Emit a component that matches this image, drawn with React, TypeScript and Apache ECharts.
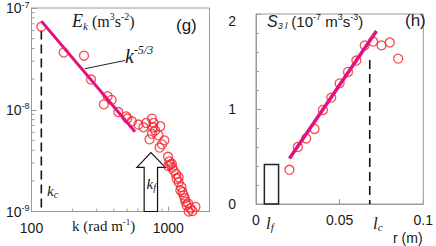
import { useEffect, useRef } from 'react';
import * as echarts from 'echarts';

// ---------- panel (g): energy spectrum ----------
const K_DATA = [118, 172, 242, 272, 338, 360, 385, 431, 491, 502, 541, 605, 658, 689, 729, 759, 759, 772, 780, 802, 849, 863, 873, 899, 935, 995, 1001, 1017, 1034, 1060, 1069, 1094, 1139, 1150, 1190, 1190, 1225, 1246, 1270, 1296, 1320, 1334, 1360, 1396, 1409, 1452, 1500, 1579];
const E_DATA = [6.54e-8, 3.66e-8, 3.4e-8, 1.98e-8, 1.13e-8, 1.36e-8, 1.25e-8, 9.5e-9, 8.6e-9, 8.2e-9, 7.7e-9, 7.15e-9, 6.73e-9, 7.41e-9, 5.12e-9, 8.17e-9, 5.8e-9, 6.73e-9, 7.41e-9, 6.25e-9, 5.6e-9, 4.25e-9, 6.89e-9, 4.57e-9, 5.0e-9, 3.45e-9, 2.8e-9, 3.1e-9, 2.88e-9, 2.95e-9, 2.7e-9, 2.52e-9, 2.34e-9, 2.1e-9, 2.17e-9, 1.94e-9, 1.62e-9, 1.74e-9, 1.55e-9, 1.44e-9, 1.35e-9, 1.25e-9, 1.15e-9, 1.2e-9, 1.0e-9, 1.07e-9, 1.01e-9, 1.11e-9];
const SLOPE_K = [118, 571];
const SLOPE_E = [7.43e-8, 6.07e-9];
const LEADER_K = [245, 483];
const LEADER_E = [2.53e-8, 3.05e-8];
const KC_VALUE = 118;
const KC_TOP = 6.0e-8;
const K_MIN = 100;
const K_MAX = 2000;
const E_MIN = 1e-9;
const E_MAX = 1e-7;
const K_LABELS = [100, 1000];
const K_MINOR_TICKS = [200, 300, 400, 500, 600, 700, 800, 900];
const E_MINOR_TICKS = [2e-9, 3e-9, 4e-9, 5e-9, 6e-9, 7e-9, 8e-9, 9e-9, 2e-8, 3e-8, 4e-8, 5e-8, 6e-8, 7e-8, 8e-8, 9e-8];
// hollow arrow marking k_f (outline in data space)
const ARROW_K = [666, 666, 589, 746, 951, 834, 834];
const ARROW_E = [1e-9, 2.72e-9, 2.72e-9, 3.79e-9, 2.72e-9, 2.72e-9, 1e-9];

// ---------- panel (h): third-order structure function ----------
const R_DATA = [0.02, 0.025, 0.03, 0.035, 0.04, 0.045, 0.05, 0.055, 0.06, 0.065, 0.07, 0.075, 0.08, 0.085];
const S_DATA = [0.36, 0.6, 0.69, 0.79, 0.99, 1.12, 1.27, 1.39, 1.51, 1.67, 1.71, 1.67, 1.7, 1.53];
const FIT_R = [0.02, 0.072];
const FIT_S = [0.48, 1.82];
const LC_VALUE = 0.068;
const LC_TOP = 1.515;
const LF_BOX_R = [0.005, 0.0135];
const LF_BOX_S = [0, 0.415];
const R_MIN = 0;
const R_MAX = 0.1;
const R_STEP = 0.05;
const S_MIN = 0;
const S_MAX = 2;
const S_STEP = 1;

const AXIS = '#9a9a9a';
const RED = '#f2202a';
const MAGENTA = '#e1127d';
const INK = '#1a1a1a';
const SANS = '"Liberation Sans", Arial, sans-serif';
const SERIF = '"Liberation Serif", "Times New Roman", serif';

const zip = (a: number[], b: number[]) => a.map((v, i) => [v, b[i]]);

function txt(x: number, y: number, text: string, rich: any, extra: any = {}) {
  return {
    type: 'text',
    x,
    y,
    silent: true,
    z: 50,
    style: { text, rich, fill: INK, align: 'left', verticalAlign: 'top', ...extra },
  };
}

function buildOption(): any {
  const serifIt = (size: number, lh: number, va = 'middle') => ({ fontFamily: SERIF, fontStyle: 'italic', fontSize: size, lineHeight: lh, color: INK, verticalAlign: va });
  const serif = (size: number, lh: number, va = 'middle') => ({ fontFamily: SERIF, fontSize: size, lineHeight: lh, color: INK, verticalAlign: va });
  const sans = (size: number, lh: number, va = 'middle') => ({ fontFamily: SANS, fontSize: size, lineHeight: lh, color: INK, verticalAlign: va });
  const sansIt = (size: number, lh: number, va = 'middle') => ({ fontFamily: SANS, fontStyle: 'italic', fontSize: size, lineHeight: lh, color: INK, verticalAlign: va });

  const tickStyle = { color: AXIS, width: 1 };

  return {
    animation: false,
    backgroundColor: '#fff',
    grid: [
      { left: 31.5, top: 5, width: 178, height: 206.5, show: true, borderColor: AXIS, borderWidth: 1, backgroundColor: 'transparent' },
      { left: 256, top: 5, width: 177, height: 199, show: true, borderColor: AXIS, borderWidth: 1, backgroundColor: 'transparent' },
    ],
    xAxis: [
      {
        type: 'log', logBase: 10, gridIndex: 0, min: K_MIN, max: K_MAX,
        axisLine: { show: true, lineStyle: tickStyle },
        axisTick: { show: true, inside: true, length: 5, lineStyle: tickStyle },
        axisLabel: {
          margin: 9, fontFamily: SANS, fontSize: 14, color: INK,
          formatter: (v: number) => (K_LABELS.some((l) => Math.abs(l - v) < 1e-6 * l) ? String(Math.round(v)) : ''),
        },
        splitLine: { show: false },
      },
      {
        type: 'value', gridIndex: 1, min: R_MIN, max: R_MAX, interval: R_STEP,
        axisLine: { show: true, onZero: false, lineStyle: tickStyle },
        axisTick: { show: true, inside: true, length: 5, lineStyle: tickStyle },
        axisLabel: { margin: 9, fontFamily: SANS, fontSize: 14, color: INK },
        splitLine: { show: false },
      },
    ],
    yAxis: [
      {
        type: 'log', logBase: 10, gridIndex: 0, min: E_MIN, max: E_MAX,
        axisLine: { show: true, lineStyle: tickStyle },
        axisTick: { show: true, inside: true, length: 5, lineStyle: tickStyle },
        axisLabel: {
          margin: 2,
          formatter: (v: number) => `{b|10}{s|${Math.round(Math.log10(v))}}`,
          rich: { b: sans(14, 16), s: sans(9, 9, 'top') },
        },
        splitLine: { show: false },
      },
      {
        type: 'value', gridIndex: 1, min: S_MIN, max: S_MAX, interval: S_STEP,
        axisLine: { show: true, onZero: false, lineStyle: tickStyle },
        axisTick: { show: true, inside: true, length: 5, lineStyle: tickStyle },
        minorTick: { show: true, splitNumber: 5, length: 3, lineStyle: tickStyle },
        axisLabel: {
          margin: 20, fontFamily: SANS, fontSize: 14, color: INK,
          formatter: (v: number) => (v === S_MAX ? `{t|${v}}` : String(v)),
          rich: { t: { ...sans(14, 16), padding: [14, 0, 0, 0] } },
        },
        splitLine: { show: false },
      },
    ],
    series: [
      // minor ticks, panel (g)
      {
        type: 'custom', xAxisIndex: 0, yAxisIndex: 0, silent: true, z: 3,
        data: K_MINOR_TICKS.map((v) => [v, E_MIN]),
        renderItem: (_p: any, api: any) => {
          const p = api.coord([api.value(0), E_MIN]);
          return { type: 'line', shape: { x1: p[0], y1: p[1], x2: p[0], y2: p[1] - 3 }, style: { stroke: AXIS, lineWidth: 1 } };
        },
      },
      {
        type: 'custom', xAxisIndex: 0, yAxisIndex: 0, silent: true, z: 3,
        data: E_MINOR_TICKS.map((v) => [K_MIN, v]),
        renderItem: (_p: any, api: any) => {
          const p = api.coord([K_MIN, api.value(1)]);
          return { type: 'line', shape: { x1: p[0], y1: p[1], x2: p[0] + 3, y2: p[1] }, style: { stroke: AXIS, lineWidth: 1 } };
        },
      },
      // k_c dashed line
      {
        type: 'line', xAxisIndex: 0, yAxisIndex: 0, silent: true, symbol: 'none', z: 4,
        data: [[KC_VALUE, KC_TOP], [KC_VALUE, E_MIN]],
        lineStyle: { color: '#111', width: 1.6, type: [9, 5] },
      },
      // hollow arrow k_f
      {
        type: 'custom', xAxisIndex: 0, yAxisIndex: 0, silent: true, z: 6,
        data: [[ARROW_K[3], E_MIN]],
        renderItem: (_p: any, api: any) => {
          const pts = ARROW_K.map((k, i) => api.coord([k, ARROW_E[i]]));
          return { type: 'polygon', shape: { points: pts }, style: { fill: '#fff', stroke: '#111', lineWidth: 1.2 } };
        },
      },
      // spectrum points
      {
        type: 'scatter', xAxisIndex: 0, yAxisIndex: 0, clip: false, z: 7,
        data: zip(K_DATA, E_DATA), symbol: 'circle', symbolSize: 9,
        itemStyle: { color: 'rgba(0,0,0,0)', borderColor: RED, borderWidth: 1.3 },
      },
      // k^-5/3 line
      {
        type: 'line', xAxisIndex: 0, yAxisIndex: 0, silent: true, symbol: 'none', z: 8,
        data: zip(SLOPE_K, SLOPE_E), lineStyle: { color: MAGENTA, width: 3 },
      },
      // leader line
      {
        type: 'line', xAxisIndex: 0, yAxisIndex: 0, silent: true, symbol: 'none', z: 8,
        data: zip(LEADER_K, LEADER_E), lineStyle: { color: '#222', width: 1 },
      },
      // panel (h): l_c dashed line
      {
        type: 'line', xAxisIndex: 1, yAxisIndex: 1, silent: true, symbol: 'none', z: 4,
        data: [[LC_VALUE, LC_TOP], [LC_VALUE, S_MIN]],
        lineStyle: { color: '#111', width: 1.6, type: [9, 5] },
      },
      // fit line + l_f box
      {
        type: 'line', xAxisIndex: 1, yAxisIndex: 1, silent: true, symbol: 'none', z: 8,
        data: zip(FIT_R, FIT_S), lineStyle: { color: MAGENTA, width: 3.5 },
        markArea: {
          silent: true,
          itemStyle: { color: 'rgba(0,0,0,0)', borderColor: '#222', borderWidth: 1.5 },
          data: [[{ coord: [LF_BOX_R[0], LF_BOX_S[0]] }, { coord: [LF_BOX_R[1], LF_BOX_S[1]] }]],
        },
      },
      {
        type: 'scatter', xAxisIndex: 1, yAxisIndex: 1, clip: false, z: 7,
        data: zip(R_DATA, S_DATA), symbol: 'circle', symbolSize: 9,
        itemStyle: { color: 'rgba(0,0,0,0)', borderColor: RED, borderWidth: 1.3 },
      },
    ],
    graphic: [
      txt(72, 11, '{E|E}{sub|k}{n| (m}{sup|3}{n|s}{sup|-2}{n|)}', {
        E: serifIt(18, 20), sub: serifIt(11, 11, 'bottom'), n: serif(16, 20), sup: serif(10, 10, 'top'),
      }),
      txt(125, 44, '{k|k}{sup|-5/3}', { k: serifIt(20, 24), sup: serifIt(12, 12, 'top') }),
      txt(176, 16, '{g|(g)}', { g: sans(17, 18) }),
      txt(47, 182, '{k|k}{s|c}', { k: serifIt(15, 17), s: serifIt(10, 10, 'bottom') }),
      txt(146.5, 175, '{k|k}{s|f}', { k: serifIt(15, 17), s: serifIt(10, 10, 'bottom') }),
      txt(72, 217, '{n|k (rad m}{sup|-1}{n|)}', { n: serif(15, 17), sup: serif(9, 9, 'top') }),
      txt(267, 12, '{S|S}{sub|3 l}{n| (10}{sup|-7}{n| m}{sup|3}{n|s}{sup|-3}{n|)}', {
        S: sansIt(16, 18), sub: sansIt(9, 9, 'bottom'), n: sans(15, 18), sup: sans(9, 9, 'top'),
      }),
      txt(405, 11, '{h|(h)}', { h: sans(17, 18) }),
      txt(266, 214, '{l|l}{s|f}', { l: serifIt(17, 18), s: serifIt(11, 11, 'bottom') }),
      txt(373, 214, '{l|l}{s|c}', { l: serifIt(17, 18), s: serifIt(11, 11, 'bottom') }),
      txt(393, 230, '{r|r (m)}', { r: sans(14, 15) }),
    ],
  };
}

export default function App() {
  const ref = useRef<HTMLDivElement>(null);
  useEffect(() => {
    if (!ref.current) return;
    const chart = echarts.init(ref.current, undefined, { renderer: 'svg' });
    chart.setOption(buildOption());
    return () => chart.dispose();
  }, []);
  return (
    <div
      ref={ref}
      style={{ position: 'fixed', left: 0, top: 0, width: 436, height: 246, background: '#fff' }}
    />
  );
}
